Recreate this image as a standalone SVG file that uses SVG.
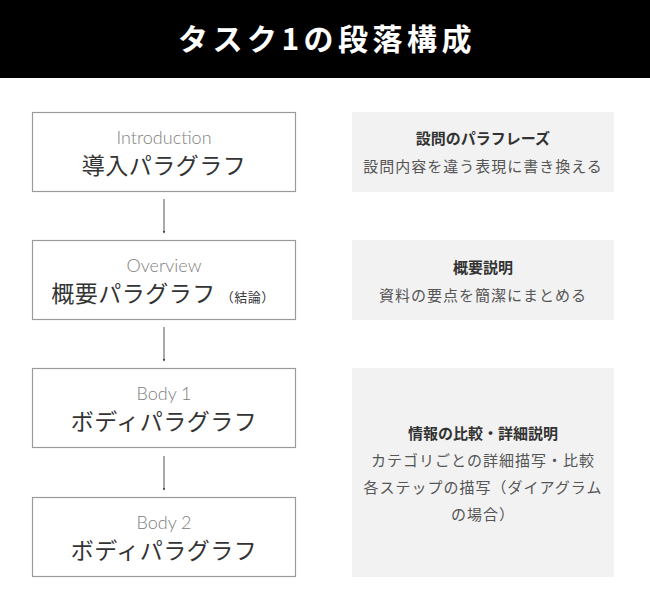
<svg xmlns="http://www.w3.org/2000/svg" width="650" height="600" viewBox="0 0 650 600">
<defs>
<style>
.box{fill:#fff;stroke:#9a9a9a;stroke-width:1.2}
.note{fill:#f2f2f2}
.en{font-family:Lato,"Noto Sans",sans-serif;font-weight:300;font-size:18px;fill:#808080;text-anchor:middle}
.jp{font-family:"Noto Sans CJK JP",sans-serif;font-weight:400;font-size:23px;fill:#333;text-anchor:middle;letter-spacing:0.5px}
.small{font-size:13px}
.h{font-family:"Noto Sans CJK JP",sans-serif;font-weight:700;font-size:15px;fill:#333;text-anchor:middle}
.t{font-family:"Noto Sans CJK JP",sans-serif;font-weight:400;font-size:15px;fill:#555;text-anchor:middle;letter-spacing:1px}
.con{stroke:#555;stroke-width:1;fill:none}
</style>
<marker id="ah" viewBox="0 0 6 6" refX="5" refY="3" markerWidth="3" markerHeight="3" orient="auto">
<path d="M0,0 L6,3 L0,6 z" fill="#444"/>
</marker>
</defs>
<rect width="650" height="600" fill="#fff"/>
<g id="header">
<rect x="0" y="0" width="650" height="78" fill="#000"/>
<text x="327" y="50" font-family="'Noto Sans CJK JP',sans-serif" font-weight="700" font-size="30" fill="#fff" text-anchor="middle" letter-spacing="4.5">タスク1の段落構成</text>
</g>
<g id="connectors">
<line class="con" x1="164" y1="199" x2="164" y2="233" marker-end="url(#ah)"/>
<line class="con" x1="164" y1="327" x2="164" y2="361" marker-end="url(#ah)"/>
<line class="con" x1="164" y1="456" x2="164" y2="490" marker-end="url(#ah)"/>
</g>
<g id="intro">
<rect class="box" x="32.5" y="112.5" width="263" height="79"/>
<text class="en" x="164" y="144">Introduction</text>
<text class="jp" x="164" y="174">導入パラグラフ</text>
</g>
<g id="overview">
<rect class="box" x="32.5" y="240.5" width="263" height="79"/>
<text class="en" x="164" y="272">Overview</text>
<text class="jp" x="163" y="302">概要パラグラフ<tspan class="small" dx="5">（結論）</tspan></text>
</g>
<g id="body1">
<rect class="box" x="32.5" y="368.5" width="263" height="79"/>
<text class="en" x="164" y="400">Body 1</text>
<text class="jp" x="164" y="430">ボディパラグラフ</text>
</g>
<g id="body2">
<rect class="box" x="32.5" y="497.5" width="263" height="79"/>
<text class="en" x="164" y="529">Body 2</text>
<text class="jp" x="164" y="559">ボディパラグラフ</text>
</g>
<g id="note1">
<rect class="note" x="352" y="112" width="262" height="80"/>
<text class="h" x="483" y="144">設問のパラフレーズ</text>
<text class="t" x="483" y="172">設問内容を違う表現に書き換える</text>
</g>
<g id="note2">
<rect class="note" x="352" y="240" width="262" height="80"/>
<text class="h" x="483" y="273">概要説明</text>
<text class="t" x="483" y="301">資料の要点を簡潔にまとめる</text>
</g>
<g id="note3">
<rect class="note" x="352" y="368" width="262" height="209"/>
<text class="h" x="483" y="439">情報の比較・詳細説明</text>
<text class="t" x="483" y="466">カテゴリごとの詳細描写・比較</text>
<text class="t" x="483" y="493">各ステップの描写（ダイアグラム</text>
<text class="t" x="483" y="520">の場合）</text>
</g>
</svg>
